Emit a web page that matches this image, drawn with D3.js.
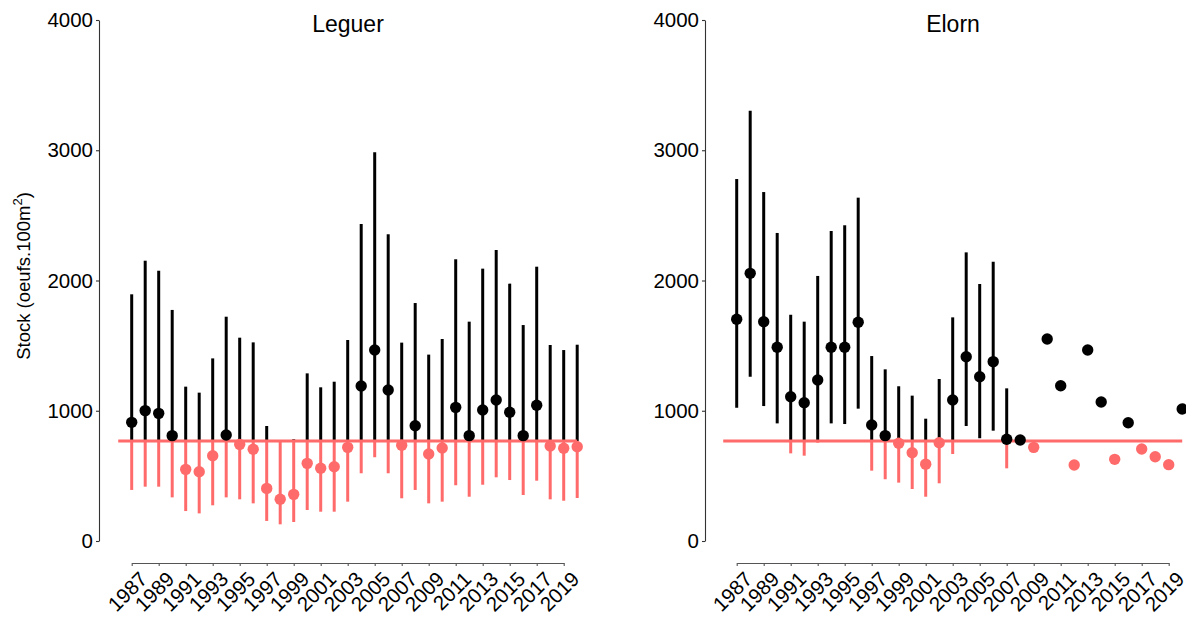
<!DOCTYPE html>
<html><head><meta charset="utf-8">
<script src="https://cdn.jsdelivr.net/npm/d3@7"></script>
<style>
body{margin:0;background:#fff;}
text{font-family:"Liberation Sans",Arial,Helvetica,sans-serif;}
</style>
</head><body>
<svg id="chart" width="1186" height="617"></svg>
<script>
// ---------- data ----------
const years = [1987,1988,1989,1990,1991,1992,1993,1994,1995,1996,1997,1998,1999,2000,2001,2002,2003,2004,2005,2006,2007,2008,2009,2010,2011,2012,2013,2014,2015,2016,2017,2018,2019,2020];
const tickYears = [1987,1989,1991,1993,1995,1997,1999,2001,2003,2005,2007,2009,2011,2013,2015,2017,2019];
const yTicks = [0,1000,2000,3000,4000];
const panelTitles = ["Leguer","Elorn"];
const thresholds = [768, 768];

const leguerMean = [911,1001,980,809,550,532,655,814,742,704,404,320,358,596,558,570,719,1190,1466,1159,735,885,668,714,1026,809,1006,1083,988,809,1042,729,712,724];
const leguerLow  = [392,417,417,335,230,212,274,335,320,289,154,128,146,238,225,225,302,520,643,520,328,392,289,302,428,340,432,489,468,353,463,320,309,330];
const leguerHigh = [1894,2152,2075,1774,1185,1139,1402,1722,1561,1525,883,760,781,1287,1180,1223,1543,2434,2984,2355,1523,1827,1431,1551,2163,1684,2091,2234,1976,1658,2106,1505,1466,1507];

const elornMean = [1702,2055,1684,1487,1108,1062,1236,1487,1487,1679,891,809,750,677,590,755,1083,1415,1261,1377,781,775,719,1551,1192,583,1466,1067,627,908,706,647,586,1013];
const elornLow  = [1023,1261,1036,903,673,655,755,903,898,1016,540,474,448,399,340,443,668,883,789,847,558,null,null,null,null,null,null,null,null,null,null,null,null,null];
const elornHigh = [2779,3304,2679,2365,1737,1684,2035,2380,2424,2636,1420,1318,1188,1116,939,1244,1717,2216,1973,2144,1172,null,null,null,null,null,null,null,null,null,null,null,null,null];

// ---------- layout ----------
const RED = "#ff6b6b";
const svg = d3.select("#chart");
const panels = [
  {title: panelTitles[0], mean: leguerMean, low: leguerLow, high: leguerHigh, thr: thresholds[0], axisX: 99, xr: [131.7, 563.7], tx: 348},
  {title: panelTitles[1], mean: elornMean, low: elornLow, high: elornHigh, thr: thresholds[1], axisX: 705, xr: [736.7, 1168.7], tx: 953}
];
const y = d3.scaleLinear().domain([0,4000]).range([541,20]);
const xAxisY = 563;

panels.forEach(p => {
  const x = d3.scaleLinear().domain([tickYears[0], tickYears[tickYears.length-1]]).range(p.xr);
  const g = svg.append("g");

  // y axis
  const ya = g.append("g").attr("transform", `translate(${p.axisX},0)`)
    .call(d3.axisLeft(y).tickValues(yTicks).tickSize(3).tickSizeOuter(0).tickPadding(3).tickFormat(d3.format("d")));
  ya.selectAll("path,line").attr("stroke","#333").attr("stroke-width",1.1);
  ya.selectAll("text").attr("font-size","20.5px").attr("fill","#000");

  // x axis
  const xa = g.append("g").attr("transform", `translate(0,${xAxisY})`)
    .call(d3.axisBottom(x).tickValues(tickYears).tickSize(3).tickSizeOuter(0).tickFormat(d3.format("d")));
  xa.selectAll("path,line").attr("stroke","#555").attr("stroke-width",1.1);
  xa.selectAll("text")
    .attr("font-size","20.5px").attr("fill","#000")
    .attr("text-anchor","end").attr("dy","0.72em").attr("y",0)
    .attr("transform","translate(6,7) rotate(-45)");

  // title
  g.append("text").attr("x", p.tx).attr("y", 32).attr("text-anchor","middle")
    .attr("font-size","23px").text(p.title);

  const data = years.map((yr,i) => ({yr, m: p.mean[i], lo: p.low[i], hi: p.high[i]}));
  const ci = data.filter(d => d.lo != null && d.hi != null);

  // black parts (above threshold)
  g.append("g").selectAll("line").data(ci.filter(d => d.hi > p.thr)).join("line")
    .attr("x1", d => x(d.yr)).attr("x2", d => x(d.yr))
    .attr("y1", d => y(Math.max(d.lo, p.thr))).attr("y2", d => y(d.hi))
    .attr("stroke","#000").attr("stroke-width",3);
  // red parts (below threshold)
  g.append("g").selectAll("line").data(ci.filter(d => d.lo < p.thr)).join("line")
    .attr("x1", d => x(d.yr)).attr("x2", d => x(d.yr))
    .attr("y1", d => y(d.lo)).attr("y2", d => y(Math.min(d.hi, p.thr)))
    .attr("stroke",RED).attr("stroke-width",3);

  // threshold line
  g.append("line")
    .attr("x1", x(years[0]-1)).attr("x2", x(years[years.length-1]))
    .attr("y1", y(p.thr)).attr("y2", y(p.thr))
    .attr("stroke",RED).attr("stroke-width",3);

  // points
  g.append("g").selectAll("circle").data(data).join("circle")
    .attr("cx", d => x(d.yr)).attr("cy", d => y(d.m)).attr("r",5.7)
    .attr("fill", d => d.m > p.thr ? "#000" : RED);
});

// y label
const yl = svg.append("text").attr("transform","translate(30,276) rotate(-90)")
  .attr("text-anchor","middle").attr("font-size","18.5px");
yl.append("tspan").text("Stock (oeufs.100m");
yl.append("tspan").attr("font-size","13px").attr("dy","-8").text("2");
yl.append("tspan").attr("dy","8").text(")");
</script>
</body></html>
